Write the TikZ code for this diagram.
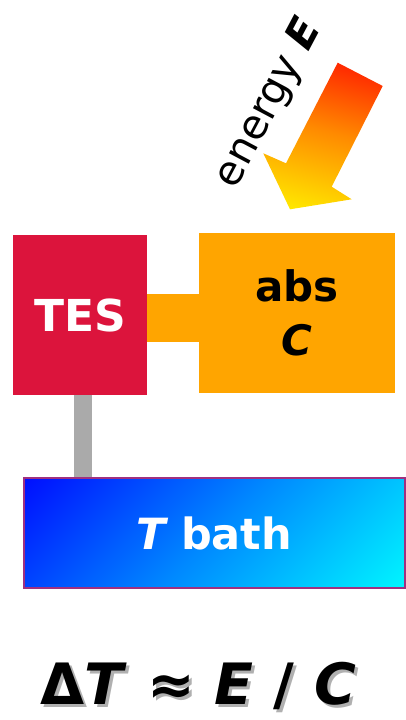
\documentclass[tikz,border=0pt]{standalone}
\usepackage{fontspec}
\setmainfont{DejaVu Sans}
\definecolor{tescrimson}{HTML}{DC143C}
\definecolor{absorange}{HTML}{FFA500}
\definecolor{linkgray}{HTML}{AAAAAA}
\definecolor{bathedge}{HTML}{A03080}
\definecolor{arrowtop}{HTML}{FF2200}
\definecolor{arrowmid}{HTML}{FF8A00}
\definecolor{arrowbot}{HTML}{FFE800}
\definecolor{bathtl}{HTML}{0010FF}
\definecolor{bathmid}{HTML}{0088FF}
\definecolor{bathbr}{HTML}{00F4FF}
\definecolor{shadowgray}{HTML}{B0B0B0}
% smooth gradients that run over the whole filled area
\pgfdeclareverticalshading{bathgrad}{100bp}{color(0bp)=(bathbr); color(15bp)=(bathbr); color(50bp)=(bathmid); color(85bp)=(bathtl); color(100bp)=(bathtl)}
\pgfdeclareverticalshading{arrowgrad}{100bp}{color(0bp)=(arrowbot); color(22bp)=(arrowbot); color(52bp)=(arrowmid); color(78bp)=(arrowtop); color(100bp)=(arrowtop)}
\tikzset{
  boxlabel/.style={font=\bfseries\fontsize{44}{48}\selectfont, align=center, inner sep=0pt},
  formula/.style={font=\bfseries\fontsize{57}{62}\selectfont, inner sep=0pt},
}
\begin{document}
\begin{tikzpicture}[x=1pt, y=-1pt]
\useasboundingbox (0,0) rectangle (406,720);

% thermal links
\draw[line width=48pt, absorange] (147,318) -- (199,318);
\draw[line width=18pt, linkgray] (83,395) -- (83,478);

% TES sensor
\node[fill=tescrimson, minimum width=134pt, minimum height=160pt, inner sep=0pt, anchor=north west] (tes) at (13,235) {};
\node[boxlabel, text=white] at (tes.center) {TES};

% absorber
\node[fill=absorange, minimum width=196pt, minimum height=160pt, inner sep=0pt, anchor=north west] (abs) at (199,233) {};
\node[boxlabel, text=black, font=\bfseries\fontsize{42}{54}\selectfont] at (abs.center) {abs\\\itshape C};

% heat bath
\shade[shading=bathgrad, shading angle=45] (24,478) rectangle (405,588);
\draw[bathedge, line width=1.2pt] (24,478) rectangle (405,588);
\node (bath) at (214.5,533) {};
\node[boxlabel, text=white, font=\bfseries\fontsize{43}{48}\selectfont] at (bath.center) {\itshape T\upshape\ bath};

% incoming energy arrow
\shade[shading=arrowgrad, shading angle=-15]
  (337.7,62.7) -- (382.7,86) -- (331.7,186.7) -- (351.7,199.3) -- (290,209.3)
  -- (263.3,153.3) -- (286,163.3) -- cycle;
\node[rotate=62, inner sep=0pt, font=\fontsize{41}{44}\selectfont] (elabel) at (269,104) {energy \textbf{\itshape E}};

% result, with its drop shadow
\node[formula, text=shadowgray] at (201.5,688.5) {\char"0394\textit{T} ≈ \textit{E} / \textit{C}};
\node[formula, text=black] (result) at (198.5,685.5) {\char"0394\textit{T} ≈ \textit{E} / \textit{C}};
\end{tikzpicture}
\end{document}
